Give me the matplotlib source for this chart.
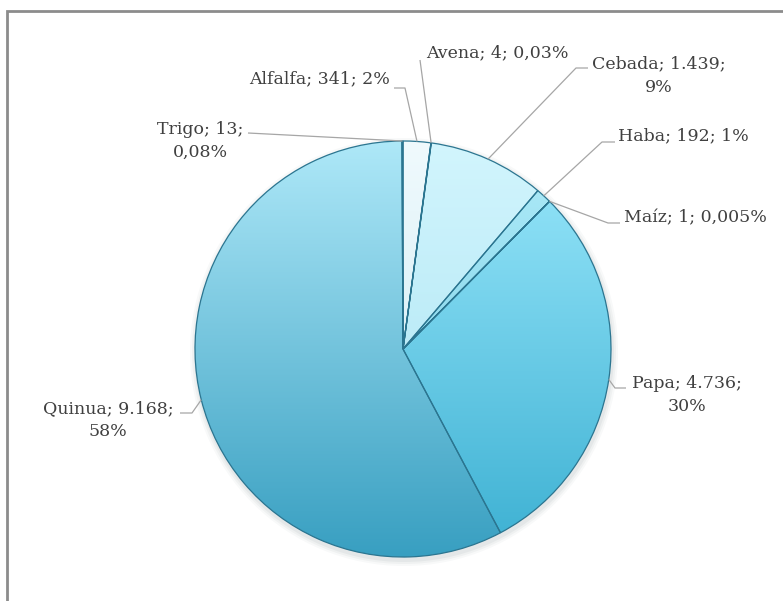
import numpy as np
import matplotlib.pyplot as plt
from matplotlib.colors import LinearSegmentedColormap
from matplotlib.patches import Rectangle, Circle

# Superficie cultivada por cultivo (ha)
cultivos = ['Alfalfa', 'Avena', 'Cebada', 'Haba', 'Maíz', 'Papa', 'Quinua', 'Trigo']
superficie = [341, 4, 1439, 192, 1, 4736, 9168, 13]
valores_txt = ['341', '4', '1.439', '192', '1', '4.736', '9.168', '13']
porcentajes = ['2%', '0,03%', '9%', '1%', '0,005%', '30%', '58%', '0,08%']

# colores de cada sector (arriba -> abajo del gradiente)
col_arriba = ['#f0fafd', '#e6f6fb', '#d2f5fd', '#b0ecf9', '#a8e8f6', '#9ae8fc', '#aee8f8', '#c0ecf8']
col_abajo = ['#c6e8f1', '#c0e4ee', '#a6e2f2', '#6cc6e0', '#6cc6e0', '#3cb0d2', '#389fc1', '#90d4e8']

# posicion de las etiquetas y quiebre de la linea guia, en pixeles de la imagen
etiquetas = {
    'Alfalfa': (320, 79, [(394, 88), (405, 88)]),
    'Avena': (497, 53, [(420, 60)]),
    'Cebada': (659, 76, [(588, 68), (576, 68)]),
    'Haba': (683, 136, [(615, 142), (602, 142)]),
    'Maíz': (695, 218, [(620, 223), (608, 223)]),
    'Papa': (687, 395, [(626, 388), (615, 388)]),
    'Quinua': (108, 420, [(180, 413), (192, 413)]),
    'Trigo': (200, 141, [(248, 133)]),
}
# etiquetas en dos lineas
dos_lineas = ['Cebada', 'Papa', 'Quinua', 'Trigo']

W, H = 783, 601
fig = plt.figure(figsize=(W / 100, H / 100), dpi=100)
ax = fig.add_axes([0, 0, 1, 1])

cx, cy, r = 403, H - 349, 208

# sombra suave
for k, a in [(6, 0.05), (4, 0.07), (2, 0.09)]:
    ax.add_patch(Circle((cx + 1, cy - 3), r + k, color='#7a8a90', alpha=a, lw=0, zorder=0))

wedges, _ = ax.pie(superficie, startangle=90, counterclock=False,
                   center=(cx, cy), radius=r, colors=col_abajo,
                   wedgeprops=dict(edgecolor='#2b7590', linewidth=0.9))

grad = np.linspace(0, 1, 256)[:, None] * np.ones((1, 4))
for w, c1, c2 in zip(wedges, col_arriba, col_abajo):
    cm = LinearSegmentedColormap.from_list('g', [c1, c2])
    im = ax.imshow(grad, extent=[cx - r, cx + r, cy - r, cy + r], origin='upper',
                   cmap=cm, aspect='auto', zorder=2, interpolation='bilinear')
    im.set_clip_path(w)
    # el sector queda solo como borde encima del gradiente
    w.set_facecolor('none')
    w.set_zorder(3)

# lineas guia y etiquetas
for w, nombre, v, p in zip(wedges, cultivos, valores_txt, porcentajes):
    ang = np.deg2rad((w.theta1 + w.theta2) / 2)
    px, py = cx + r * np.cos(ang), cy + r * np.sin(ang)
    tx, ty, quiebre = etiquetas[nombre]
    pts = [(px, py)] + [(x, H - y) for x, y in reversed(quiebre)]
    xs, ys = zip(*pts)
    ax.plot(xs, ys, color='#a6a6a6', lw=0.9, zorder=4, solid_capstyle='butt')
    sep = '\n' if nombre in dos_lineas else ' '
    txt = f'{nombre}; {v};{sep}{p}'
    ax.text(tx, H - ty, txt, ha='center', va='center', multialignment='center',
            fontsize=12.5, family='DejaVu Serif', color='#404040', zorder=5,
            linespacing=1.5)

# marco del grafico (recortado a la derecha y abajo)
ax.add_patch(Rectangle((7, -20), W + 20, H - 11 + 20, fill=False,
                       edgecolor='#8c8c8c', lw=2, zorder=6))

ax.set_xlim(0, W)
ax.set_ylim(0, H)
ax.set_aspect('equal')
ax.axis('off')

plt.savefig('out.png', dpi=100)
